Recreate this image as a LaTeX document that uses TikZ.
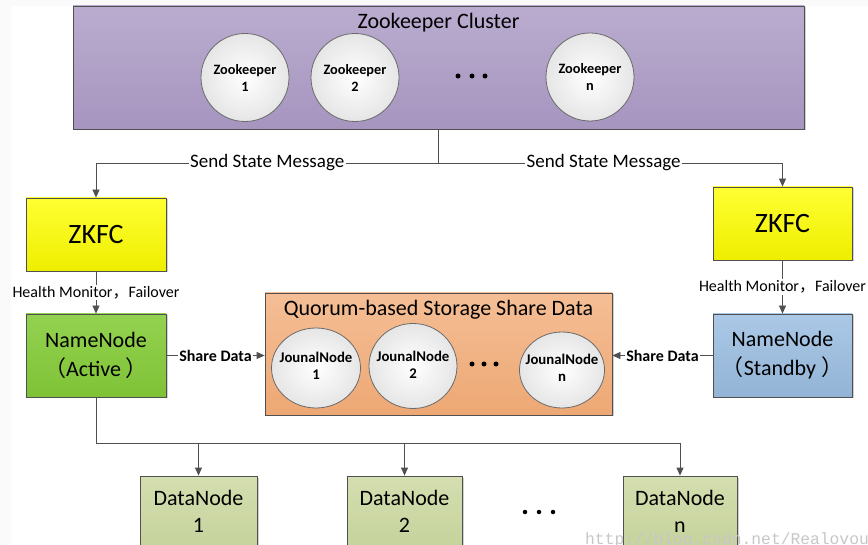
\documentclass[tikz,border=0pt]{standalone}
\usepackage{fontspec}
\setmainfont{Carlito}
\newfontfamily\cjk{Noto Sans CJK SC}
\newfontfamily\wmfont{Liberation Mono}
\usetikzlibrary{shapes.geometric,arrows.meta,shadows}
\definecolor{edge}{HTML}{505050}
\definecolor{clusterTop}{HTML}{BAACCF}
\definecolor{clusterBot}{HTML}{A695BF}
\definecolor{zkfcTop}{HTML}{FFFF33}
\definecolor{zkfcBot}{HTML}{EEEE00}
\definecolor{actTop}{HTML}{93D250}
\definecolor{actBot}{HTML}{7FC236}
\definecolor{qTop}{HTML}{F5BE95}
\definecolor{qBot}{HTML}{EDA874}
\definecolor{sbyTop}{HTML}{ABC8E6}
\definecolor{sbyBot}{HTML}{93B4D6}
\definecolor{dnTop}{HTML}{D4DEB0}
\definecolor{dnBot}{HTML}{C6D39C}
\begin{document}
\begin{tikzpicture}[x=1pt,y=-1pt,
  box/.style={draw=edge, line width=0.8pt, rectangle, inner sep=0pt, align=center,
    drop shadow={shadow xshift=1.5pt, shadow yshift=-1.5pt, fill=black, opacity=0.18}},
  zkcirc/.style={circle, draw=edge!85, line width=0.8pt, minimum size=88pt, inner sep=0pt,
    inner color=white, outer color=black!10},
  jcirc/.style={ellipse, draw=edge!85, line width=0.8pt, inner sep=0pt,
    inner color=white, outer color=black!10},
  circtext/.style={align=center, inner sep=0pt, font=\bfseries\fontsize{14.3}{17}\selectfont},
  jtext/.style={align=center, inner sep=0pt, font=\bfseries\fontsize{14.8}{17.5}\selectfont},
  line/.style={draw=edge, line width=0.8pt},
  arr/.style={draw=edge, line width=0.8pt, -{Triangle[width=7pt,length=8pt]}},
  msg/.style={fill=white, inner sep=1.5pt, font=\fontsize{19}{22}\selectfont},
  health/.style={fill=white, inner sep=1.5pt, font=\fontsize{16}{19}\selectfont},
  share/.style={fill=white, inner sep=1pt, font=\bfseries\fontsize{16}{19}\selectfont},
  dot/.style={circle, fill=black, inner sep=0pt, minimum size=5pt}
]
\clip (0,0) rectangle (868,545);
\fill[black!2] (0,0) rectangle (868,545);
\fill[white] (11,6) rectangle (868,545);

% Zookeeper cluster
\node[box, minimum width=731pt, minimum height=123pt, top color=clusterTop, bottom color=clusterBot] (cluster) at (438.5,67.5) {};
\node[font=\fontsize{22}{26}\selectfont, inner sep=0pt] (clustertitle) at (438.5,23) {Zookeeper Cluster};
\node[zkcirc] (zk1) at (245,77.5) {};
\node[circtext] (zk1t) at (zk1) {Zookeeper\\1};
\node[zkcirc] (zk2) at (355,77.5) {};
\node[circtext] (zk2t) at (zk2) {Zookeeper\\2};
\node[zkcirc] (zkn) at (590,77) {};
\node[circtext] (zknt) at (zkn) {Zookeeper\\n};
\node[dot] (zkd1) at (458,76) {};
\node[dot] (zkd2) at (472,76) {};
\node[dot] (zkd3) at (485,76) {};

% ZKFC
\node[box, minimum width=140pt, minimum height=73pt, top color=zkfcTop, bottom color=zkfcBot,
  font=\fontsize{28}{32}\selectfont] (zkfcL) at (96,234.5) {ZKFC};
\node[box, minimum width=139pt, minimum height=73pt, top color=zkfcTop, bottom color=zkfcBot,
  font=\fontsize{28}{32}\selectfont] (zkfcR) at (782.5,223.5) {ZKFC};

% NameNodes
\node[box, minimum width=140pt, minimum height=83pt, top color=actTop, bottom color=actBot,
  font=\fontsize{22}{29}\selectfont] (nnA) at (96,355.5) {NameNode\\{\cjk （}Active {\cjk ）}};
\node[box, minimum width=139pt, minimum height=83pt, top color=sbyTop, bottom color=sbyBot,
  font=\fontsize{22}{29}\selectfont] (nnS) at (782.5,355.5) {NameNode\\{\cjk （}Standby {\cjk ）}};

% Quorum storage
\node[box, minimum width=347pt, minimum height=122pt, top color=qTop, bottom color=qBot] (qjm) at (438.5,354) {};
\node[font=\fontsize{22}{26}\selectfont, inner sep=0pt] (qjmtitle) at (438.5,310) {Quorum-based Storage Share Data};
\node[jcirc, minimum width=89pt, minimum height=80pt] (jn1) at (316,368) {};
\node[jtext] (jn1t) at (316,366) {JounalNode\\1};
\node[jcirc, minimum width=88pt, minimum height=85pt] (jn2) at (413,366) {};
\node[jtext] (jn2t) at (413,365) {JounalNode\\2};
\node[jcirc, minimum width=85pt, minimum height=76pt] (jnn) at (562,370) {};
\node[jtext] (jnnt) at (562,368) {JounalNode\\n};
\node[dot] (jd1) at (472,364) {};
\node[dot] (jd2) at (484,364) {};
\node[dot] (jd3) at (496,364) {};

% DataNodes
\node[box, minimum width=117pt, minimum height=71pt, top color=dnTop, bottom color=dnBot,
  font=\fontsize{22}{27}\selectfont] (dn1) at (198.5,511.5) {DataNode\\1};
\node[box, minimum width=115pt, minimum height=71pt, top color=dnTop, bottom color=dnBot,
  font=\fontsize{22}{27}\selectfont] (dn2) at (404.5,511.5) {DataNode\\2};
\node[box, minimum width=114pt, minimum height=71pt, top color=dnTop, bottom color=dnBot,
  font=\fontsize{22}{27}\selectfont] (dnn) at (680,511.5) {DataNode\\n};
\node[dot, minimum size=4.5pt] (dd1) at (525,512) {};
\node[dot, minimum size=4.5pt] (dd2) at (539,512) {};
\node[dot, minimum size=4.5pt] (dd3) at (553,512) {};

% Connectors
\coordinate (fork) at (438.5,163);
\draw[line] (cluster.south) -- (fork);
\draw[arr] (fork) -| node[msg, pos=0.25] {Send State Message} (zkfcL.north);
\draw[arr] (fork) -| node[msg, pos=0.24] {Send State Message} (zkfcR.north);

\draw[arr] (zkfcL.south) -- node[health] {Health Monitor{\cjk ，}Failover} (nnA.north);
\draw[arr] (zkfcR.south) -- node[health] {Health Monitor{\cjk ，}Failover} (nnS.north);

\draw[arr] (nnA.east) -- node[share] {Share Data} (nnA.east -| qjm.west);
\draw[arr] (nnS.west) -- node[share] {Share Data} (nnS.west -| qjm.east);

\coordinate (bus) at (96,443);
\draw[line] (nnA.south) -- (bus) -- (bus -| dnn.north);
\draw[arr] (bus -| dn1.north) -- (dn1.north);
\draw[arr] (bus -| dn2.north) -- (dn2.north);
\draw[arr] (bus -| dnn.north) -- (dnn.north);

% watermark
\node[anchor=base west, inner sep=0pt, text=black!22, font=\wmfont\fontsize{16.3}{18}\selectfont] (wm) at (585,544) {http://blog.csdn.net/Realovou};
\end{tikzpicture}
\end{document}
